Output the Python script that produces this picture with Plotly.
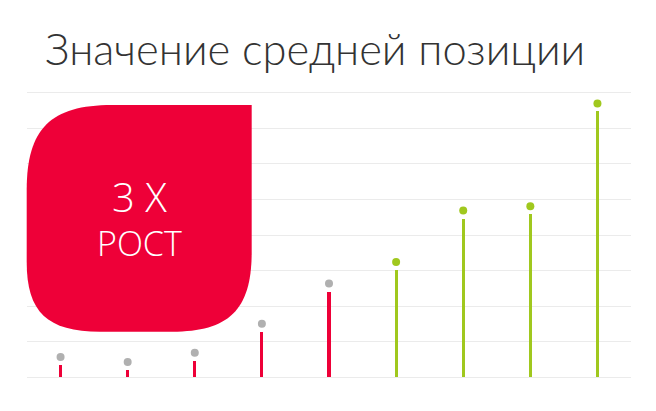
import plotly.graph_objects as go

# Data: average position per period (first five - before, last four - after)
periods = ["1", "2", "3", "4", "5", "6", "7", "8", "9"]
avg_position = [0.35, 0.21, 0.47, 1.28, 2.41, 3.02, 4.46, 4.58, 7.47]
phase = ["before"] * 5 + ["after"] * 4

RED = "#EE0038"
GREEN = "#A0C81E"
GREY = "#B0B0B0"
GRID = "#EBEBEB"

W, H = 656, 411
L, R, T, B = 27, 25, 89, 30
DOT_GAP = 0.225  # gap between stem top and dot, in axis units

stem_colors = [RED if p == "before" else GREEN for p in phase]
dot_colors = [GREY if p == "before" else GREEN for p in phase]

fig = go.Figure()

# stems
fig.add_trace(go.Bar(
    x=periods, y=avg_position,
    width=0.045,
    marker=dict(color=stem_colors, line=dict(width=0)),
    hoverinfo="skip"))

# dots on top of the stems
fig.add_trace(go.Scatter(
    x=periods, y=[v + DOT_GAP for v in avg_position],
    mode="markers",
    marker=dict(size=8, color=dot_colors),
    cliponaxis=False,
    hoverinfo="skip"))


# pixel -> paper coords for the decorative badge
def pp(xp, yp):
    return (xp - L) / (W - L - R), (H - B - yp) / (H - T - B)


def path(points):
    cmds = []
    for cmd, pts in points:
        coords = " ".join("%.4f,%.4f" % pp(x, y) for x, y in pts)
        cmds.append(cmd + " " + coords)
    return " ".join(cmds) + " Z"


k = 0.72
badge = path([
    ("M", [(251.7, 105)]),
    ("L", [(112, 105)]),
    ("C", [(112 - k * 85.3, 105), (26.7, 190 - k * 85), (26.7, 190)]),
    ("L", [(26.7, 262)]),
    ("C", [(26.7, 262 + k * 69.7), (100 - k * 73.3, 331.7), (100, 331.7)]),
    ("L", [(172, 331.7)]),
    ("C", [(172 + k * 79.7, 331.7), (251.7, 252 + k * 79.7), (251.7, 252)]),
])

badge_x, badge_y = pp(139, 217.5)

fig.update_layout(
    width=W, height=H,
    margin=dict(l=L, r=R, t=T, b=B),
    paper_bgcolor="white", plot_bgcolor="white",
    showlegend=False,
    bargap=0,
    title=dict(
        text="Значение средней позиции",
        font=dict(family="Lato", size=43.5, color="#333333", weight=300),
        x=45 / W, xanchor="left", xref="container",
        y=1 - 49.5 / H, yanchor="middle", yref="container"),
    shapes=[dict(type="path", path=badge, xref="paper", yref="paper",
                 fillcolor=RED, line=dict(width=0), layer="above")],
    annotations=[
        dict(text="<span style='font-size:40px'>3 X</span><br>РОСТ",
             x=badge_x, y=badge_y,
             xref="paper", yref="paper", showarrow=False,
             xanchor="center", yanchor="middle", align="center",
             font=dict(family="Open Sans", size=34, color="white", weight=300)),
    ],
)

fig.update_xaxes(range=[-0.5, 8.5], showticklabels=False, showgrid=False,
                 zeroline=False, showline=False, ticks="")
fig.update_yaxes(range=[-0.1, 8.1], dtick=1, tick0=0, showticklabels=False,
                 showgrid=True, gridcolor=GRID, gridwidth=1,
                 zeroline=True, zerolinecolor=GRID, zerolinewidth=1,
                 showline=False, ticks="")

fig.write_html("out.html", config=dict(displayModeBar=False),
               post_script="document.body.style.margin='0';")
